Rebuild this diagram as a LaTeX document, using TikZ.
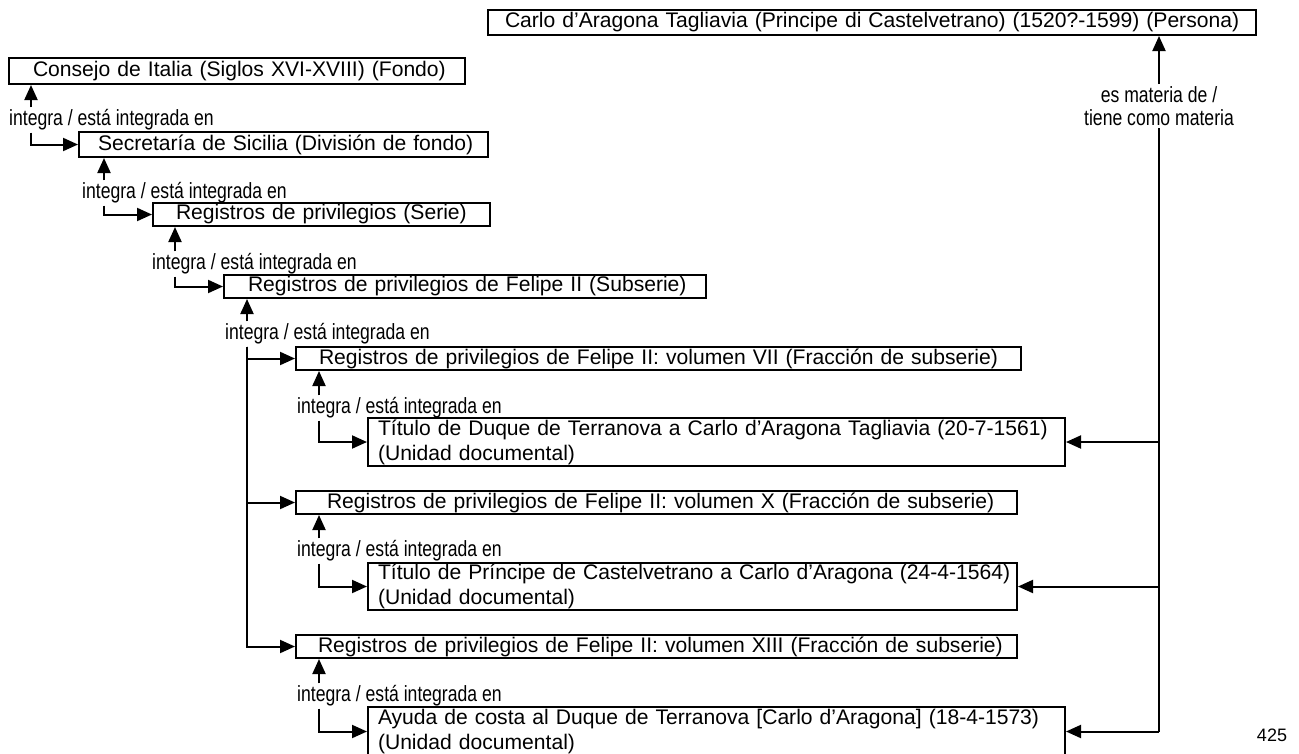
\documentclass[tikz,border=0pt]{standalone}
\usepackage{fontspec}
\setmainfont{Liberation Sans}
\newfontfamily\narrowfont[FakeStretch=0.8]{Liberation Sans}
\usetikzlibrary{arrows.meta}
\begin{document}
\begin{tikzpicture}[x=1pt,y=-1pt,
  box/.style={draw, line width=2pt, anchor=north west, inner ysep=0pt, align=left,
    font=\fontsize{21.1}{25}\selectfont},
  lab/.style={anchor=west, inner sep=2pt, font=\narrowfont\fontsize{22}{23}\selectfont},
  arr/.style={line width=2pt, -{Triangle[length=15pt,width=13pt]}},
  ln/.style={line width=2pt}]
\useasboundingbox (0,0) rectangle (1299,753);

% boxes
\node[box, minimum height=25pt, inner xsep=17pt, text width=734pt] (carlo) at (487,9)
  {\mbox{Carlo d’Aragona Tagliavia (Principe di Castelvetrano) (1520?-1599) (Persona)}};
\node[box, minimum height=26pt, inner xsep=24pt, text width=408pt] (consejo) at (8,57)
  {\mbox{Consejo de Italia (Siglos XVI-XVIII) (Fondo)}};
\node[box, minimum height=25pt, inner xsep=19pt, text width=371pt] (secretaria) at (78,131)
  {\mbox{Secretaría de Sicilia (División de fondo)}};
\node[box, minimum height=23pt, inner xsep=23pt, text width=291pt] (serie) at (152,202)
  {\mbox{Registros de privilegios (Serie)}};
\node[box, minimum height=23pt, inner xsep=24pt, text width=434pt] (subserie) at (223,274)
  {\mbox{Registros de privilegios de Felipe II (Subserie)}};
\node[box, minimum height=23pt, inner xsep=23pt, text width=679pt] (vol7) at (295,346)
  {\mbox{Registros de privilegios de Felipe II: volumen VII (Fracción de subserie)}};
\node[box, minimum height=48pt, inner xsep=10pt, text width=677pt] (titD) at (367,417)
  {\mbox{Título de Duque de Terranova a Carlo d’Aragona Tagliavia (20-7-1561)}\\\mbox{(Unidad documental)}};
\node[box, minimum height=23pt, inner xsep=31pt, text width=659pt] (vol10) at (295,490)
  {\mbox{Registros de privilegios de Felipe II: volumen X (Fracción de subserie)}};
\node[box, minimum height=47pt, inner xsep=10pt, text width=629pt] (titP) at (367,562)
  {\mbox{Título de Príncipe de Castelvetrano a Carlo d’Aragona (24-4-1564)}\\\mbox{(Unidad documental)}};
\node[box, minimum height=23pt, inner xsep=22pt, text width=677pt] (vol13) at (295,634)
  {\mbox{Registros de privilegios de Felipe II: volumen XIII (Fracción de subserie)}};
\node[box, minimum height=49pt, inner xsep=10pt, text width=677pt] (ayuda) at (367,706)
  {\mbox{Ayuda de costa al Duque de Terranova [Carlo d’Aragona] (18-4-1573)}\\\mbox{(Unidad documental)}};

% labels
\node[lab] (lab1) at (7,120) {integra / está integrada en};
\node[lab] (lab2) at (80,193) {integra / está integrada en};
\node[lab] (lab3) at (150,264) {integra / está integrada en};
\node[lab] (lab4) at (223,334) {integra / está integrada en};
\node[lab] (lab5) at (295,408) {integra / está integrada en};
\node[lab] (lab6) at (295,551) {integra / está integrada en};
\node[lab] (lab7) at (295,696) {integra / está integrada en};
\node[lab, anchor=center, align=center] (mat) at (1159,106) {es materia de /\\tiene como materia};
\node[anchor=center, font=\fontsize{18}{20}\selectfont] (page) at (1272,735) {425};

% x positions of the vertical connectors
\coordinate (ax1) at (31,0);
\coordinate (ax2) at (104,0);
\coordinate (ax3) at (175,0);
\coordinate (ax4) at (247,0);
\coordinate (ax5) at (319,0);
\coordinate (rx) at (1159,0);

% hierarchy connectors
\draw[arr] (lab1.north -| ax1) -- (consejo.south -| ax1);
\draw[arr] (lab1.south -| ax1) |- (secretaria.west);
\draw[arr] (lab2.north -| ax2) -- (secretaria.south -| ax2);
\draw[arr] (lab2.south -| ax2) |- (serie.west);
\draw[arr] (lab3.north -| ax3) -- (serie.south -| ax3);
\draw[arr] (lab3.south -| ax3) |- (subserie.west);
\draw[arr] (lab4.north -| ax4) -- (subserie.south -| ax4);
\draw[arr] (lab4.south -| ax4) |- (vol7.west);
\draw[arr] (lab4.south -| ax4) |- (vol10.west);
\draw[arr] (lab4.south -| ax4) |- (vol13.west);
\draw[arr] (lab5.north -| ax5) -- (vol7.south -| ax5);
\draw[arr] (lab5.south -| ax5) |- (titD.west);
\draw[arr] (lab6.north -| ax5) -- (vol10.south -| ax5);
\draw[arr] (lab6.south -| ax5) |- (titP.west);
\draw[arr] (lab7.north -| ax5) -- (vol13.south -| ax5);
\draw[arr] (lab7.south -| ax5) |- (ayuda.west);

% subject connectors
\draw[ln] (rx |- ayuda.east) -- (mat.south);
\draw[arr] (mat.north) -- (carlo.south -| rx);
\draw[arr] (rx |- titD.east) -- (titD.east);
\draw[arr] (rx |- titP.east) -- (titP.east);
\draw[arr] (rx |- ayuda.east) -- (ayuda.east);
\end{tikzpicture}
\end{document}
